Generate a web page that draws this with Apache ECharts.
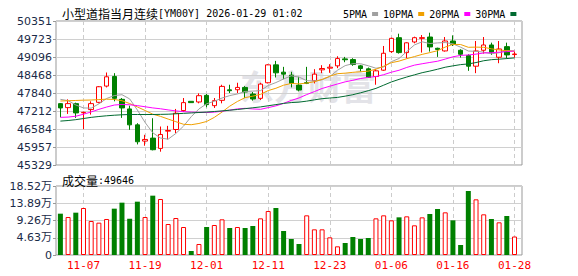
<!DOCTYPE html>
<html><head><meta charset="utf-8">
<script src="https://cdn.jsdelivr.net/npm/echarts@6/dist/echarts.min.js"></script>
<style>html,body{margin:0;padding:0;background:#fff}#c{width:578px;height:276px}</style>
</head><body><div id="c"></div>
<script>
const categories = ['11-04','11-05','11-06','11-07','11-10','11-11','11-12','11-13','11-14','11-17','11-18','11-19','11-20','11-21','11-24','11-25','11-26','11-27','11-28','12-01','12-02','12-03','12-04','12-05','12-08','12-09','12-10','12-11','12-12','12-15','12-16','12-17','12-18','12-19','12-22','12-23','12-24','12-26','12-29','12-30','12-31','01-02','01-05','01-06','01-07','01-08','01-09','01-12','01-13','01-14','01-15','01-16','01-19','01-20','01-21','01-22','01-23','01-26','01-27','01-28'];
const opens = [47469,47330,47469,47150,47261,47515,48081,48417,47619,47284,46729,46163,46267,45908,46510,46567,47226,47550,47527,47758,47399,47584,47950,47954,48035,47804,47654,48197,48821,48567,48463,48116,48200,48266,48648,48706,48787,49030,49006,48787,48683,48417,48636,49284,49769,49249,49619,49746,49792,49400,49307,49654,49330,49145,48775,49330,49515,49087,49457,49180];
const closes = [47319,47469,47145,47165,47469,48058,48405,47654,47319,46729,46139,46220,45862,46394,46533,47134,47504,47504,47746,47434,47573,48070,47920,48035,47873,47631,48151,48821,48544,48498,48174,47943,48180,48498,48694,48740,49041,49000,48833,48694,48382,48613,49226,49746,49249,49590,49769,49770,49446,49360,49654,49538,49191,48775,49307,49515,49249,49376,49168,49200];
const lows = [46995,47110,46972,46580,47087,47480,48035,47550,46972,46556,46047,46001,45840,45793,46220,46440,47180,47504,47480,47342,47319,47480,47839,47839,47665,47573,47596,48174,48382,48324,48035,47897,48151,48174,48532,48544,48706,48914,48787,48590,48370,48128,48613,49238,49214,49050,49573,49249,49284,49099,49284,49480,49076,48613,48532,49214,49168,48879,49041,49076];
const highs = [47490,47619,47504,47190,47550,48081,48555,48532,47665,47399,46787,46382,46960,46671,46694,47284,47665,47550,47827,47804,47665,48128,48128,48197,48081,47873,48197,48844,48960,48752,48579,48405,48752,48671,48810,48845,49122,49099,49053,48821,48729,48671,49480,49769,49908,49610,49804,49862,49943,49420,49792,49850,49365,49191,49654,49792,49596,49654,49596,49284];
const ma5 = [47619,47573,47423,47319,47313,47461,47648,47750,47781,47633,47249,46812,46454,46269,46230,46429,46685,47014,47284,47464,47552,47665,47749,47806,47894,47906,47922,48102,48204,48329,48438,48396,48270,48261,48300,48413,48633,48795,48862,48862,48790,48704,48750,48932,49043,49285,49516,49625,49565,49587,49600,49554,49438,49304,49293,49265,49207,49244,49323,49302];
const ma10 = [47560,47570,47580,47590,47595,47610,47625,47615,47570,47473,47355,47230,47102,47025,46931,46839,46749,46734,46777,46847,46990,47175,47381,47545,47679,47729,47794,47925,48005,48112,48172,48159,48186,48232,48314,48425,48514,48532,48561,48581,48602,48669,48772,48897,48952,49037,49110,49187,49249,49315,49442,49535,49531,49434,49440,49433,49381,49341,49313,49297];
const ma20 = [46990,47000,47030,47100,47180,47270,47350,47420,47440,47430,47400,47360,47320,47290,47250,47215,47190,47175,47165,47160,47173,47203,47242,47285,47305,47284,47271,47330,47391,47479,47581,47667,47784,47889,47997,48077,48154,48229,48283,48346,48387,48414,48479,48565,48633,48731,48812,48860,48905,48948,49022,49102,49152,49166,49196,49235,49245,49264,49281,49306];
const ma30 = [46860,46880,46910,46950,46990,47020,47045,47065,47080,47090,47090,47090,47090,47095,47100,47115,47130,47145,47160,47175,47195,47215,47240,47265,47295,47325,47355,47395,47435,47477,47506,47522,47556,47601,47642,47664,47686,47730,47781,47846,47921,48001,48113,48225,48315,48397,48473,48548,48605,48669,48739,48787,48830,48854,48902,48965,49002,49020,49041,49064];
const volumes = [110900,102000,113600,126150,91260,86790,96630,124360,140470,97520,143150,102000,159260,150310,83200,99310,75150,10740,29525,75150,80520,95730,72470,75150,72470,77840,98420,118100,126150,64420,42950,29530,106470,68890,68890,47420,23260,32210,48310,42950,45630,98420,106470,93050,101100,103790,79630,101100,110050,123470,114520,93050,26840,171780,149410,109150,96630,87680,104680,49646];
const volUp = [0,1,0,1,1,1,1,0,0,0,0,1,0,1,1,1,1,0,1,0,1,1,0,1,0,0,1,1,0,0,0,0,1,1,1,1,1,0,0,0,0,1,1,1,0,1,1,1,0,0,1,0,0,0,1,1,0,1,0,1];
const priceTickLabels = ['45329','45957','46584','47212','47840','48468','49096','49723','50351'];
const volTickLabels = ['0','4.63万','9.26万','13.89万','18.52万'];
const legendNames = ['5PMA','10PMA','20PMA','30PMA'];
const maColors = ['#a0a0a0','#f0a000','#ff00ff','#006a30'];
const titleMain = '小型道指当月连续';
const titleCode = '[YM00Y] 2026-01-29 01:02';
const volTitleCn = '成交量';
const volTitleVal = ':49646';
const watermark = '东方财富';

const PMIN = 45329, PMAX = 50351, PINT = 627.75;
const VMAX = 185200, VINT = 46300;
const labelAt = i => i % 8 === 3;

const chart = echarts.init(document.getElementById('c'), null, {renderer: 'svg', width: 578, height: 276});
const candleData = categories.map((_, i) => [opens[i], closes[i], lows[i], highs[i]]);
const volData = volumes.map((v, i) => ({
  value: v,
  itemStyle: volUp[i] ? {color: '#ffffff', borderColor: '#ff0000', borderWidth: 1} : {color: '#008000', borderColor: '#008000', borderWidth: 0}
}));
const maSeries = [ma5, ma10, ma20, ma30].map((d, k) => ({
  type: 'line', name: legendNames[k], xAxisIndex: 1, yAxisIndex: 1, data: d,
  symbol: 'none', z: 3, lineStyle: {width: 1, color: maColors[k]}, itemStyle: {color: maColors[k]}
}));
const yLabelStyle = {color: '#1a2a48', fontFamily: 'DejaVu Sans, Noto Sans CJK SC', fontSize: 11, margin: 4};
const dashed = {show: true, interval: (i) => labelAt(i), lineStyle: {color: '#cccccc', type: [4, 3], width: 1}};
const richTitle = {
  c: {fontFamily: 'Noto Sans CJK SC', fontSize: 12, fontWeight: 'normal', color: '#000'},
  a: {fontFamily: 'DejaVu Sans Mono', fontSize: 10, fontWeight: 'normal', color: '#000'}
};

chart.setOption({
  animation: false,
  backgroundColor: '#ffffff',
  title: [
    {left: 57, top: 2, text: '{c|' + titleMain + '}{a|' + titleCode + '}',
     textStyle: {fontWeight: 'normal', rich: richTitle}},
    {left: 57, top: 169, text: '{c|' + volTitleCn + '}{a|' + volTitleVal + '}',
     textStyle: {fontWeight: 'normal', rich: richTitle}}
  ],
  legend: {left: 338, top: 4, icon: 'rect', itemWidth: 6, itemHeight: 4, itemGap: 5, align: 'right',
    data: legendNames, textStyle: {fontFamily: 'DejaVu Sans Mono', fontSize: 10, color: '#000'}},
  graphic: [{type: 'text', left: 240, top: 68, z: -10, silent: true,
    style: {text: watermark, fontFamily: 'Noto Sans CJK SC', fontWeight: 'bold', fontSize: 34, fill: '#e3e3e8'}}],
  grid: [
    {left: 56, right: 56, top: 21, height: 144, show: true, borderColor: '#999999', borderWidth: 1, backgroundColor: 'transparent'},
    {left: 60.4, right: 63.5, top: 21, height: 144},
    {left: 56, right: 56, top: 186, height: 69, show: true, borderColor: '#999999', borderWidth: 1, backgroundColor: 'transparent'},
    {left: 60.4, right: 63.5, top: 186, height: 69}
  ],
  xAxis: [
    {gridIndex: 0, type: 'value', show: false, min: 0, max: 1},
    {gridIndex: 1, type: 'category', data: categories, boundaryGap: false, axisLine: {show: false}, axisTick: {show: false}, axisLabel: {show: false}, splitLine: dashed},
    {gridIndex: 2, type: 'value', show: false, min: 0, max: 1},
    {gridIndex: 3, type: 'category', data: categories, boundaryGap: false, axisLine: {show: false}, axisTick: {show: false},
     axisLabel: {show: true, interval: (i) => labelAt(i), color: '#ff0000', fontFamily: 'DejaVu Sans Mono', fontSize: 11, margin: 5},
     splitLine: dashed}
  ],
  yAxis: [
    {gridIndex: 0, type: 'value', min: PMIN, max: PMAX, interval: PINT, axisLine: {show: false},
     axisTick: {show: true, length: 3, lineStyle: {color: '#999999'}},
     axisLabel: Object.assign({formatter: (v) => priceTickLabels[Math.round((v - PMIN) / PINT)]}, yLabelStyle),
     splitLine: {show: true, lineStyle: {color: '#d0d0d0', width: 1}}},
    {gridIndex: 1, type: 'value', min: PMIN, max: PMAX, show: false, splitLine: {show: false}},
    {gridIndex: 2, type: 'value', min: 0, max: VMAX, interval: VINT, axisLine: {show: false},
     axisTick: {show: true, length: 3, lineStyle: {color: '#999999'}},
     axisLabel: Object.assign({formatter: (v) => volTickLabels[Math.round(v / VINT)]}, yLabelStyle),
     splitLine: {show: true, lineStyle: {color: '#d0d0d0', width: 1}}},
    {gridIndex: 3, type: 'value', min: 0, max: VMAX, show: false, splitLine: {show: false}}
  ],
  series: [
    {type: 'candlestick', name: 'K', xAxisIndex: 1, yAxisIndex: 1, data: candleData, barWidth: 5,
     itemStyle: {color: '#ffffff', color0: '#008000', borderColor: '#ff0000', borderColor0: '#008000', borderWidth: 1}},
    ...maSeries,
    {type: 'bar', name: 'VOL', xAxisIndex: 3, yAxisIndex: 3, data: volData, barWidth: 5}
  ]
});
</script>
</body></html>
